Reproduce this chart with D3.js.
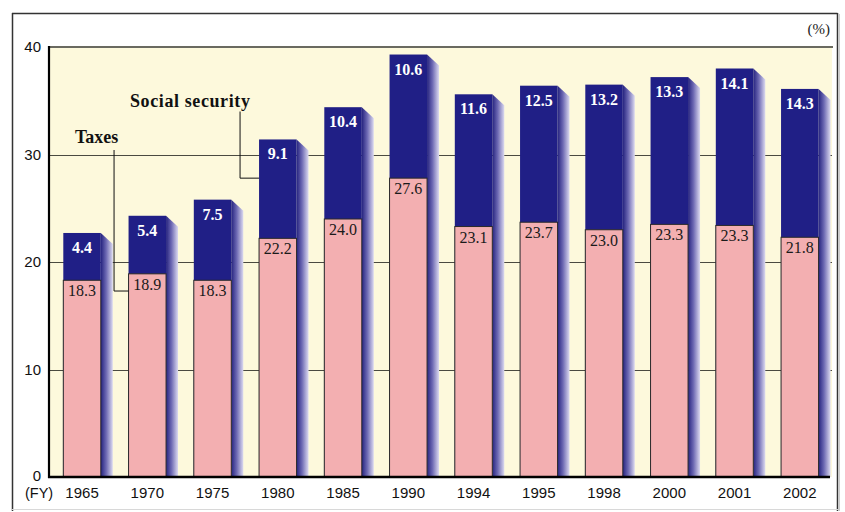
<!DOCTYPE html>
<html>
<head>
<meta charset="utf-8">
<script src="https://cdn.jsdelivr.net/npm/d3@7"></script>
<style>
  html, body { margin: 0; padding: 0; background: #ffffff; }
  svg { display: block; }
</style>
</head>
<body>
<svg id="chart" width="845" height="512"></svg>
<script>
// ---- data ----
const years = ["1965","1970","1975","1980","1985","1990","1994","1995","1998","2000","2001","2002"];
// value labels printed on the bars
const taxes          = [18.3, 18.9, 18.3, 22.2, 24.0, 27.6, 23.1, 23.7, 23.0, 23.3, 23.3, 21.8];
const socialSecurity = [4.4, 5.4, 7.5, 9.1, 10.4, 10.6, 11.6, 12.5, 13.2, 13.3, 14.1, 14.3];
// heights at which the bars are actually drawn in the picture (%)
const taxBarTop   = [18.3, 18.9, 18.3, 22.2, 24.0, 27.8, 23.3, 23.7, 23.0, 23.5, 23.4, 22.3];
const totalBarTop = [22.7, 24.3, 25.8, 31.4, 34.4, 39.3, 35.6, 36.4, 36.5, 37.2, 38.0, 36.1];
const yTicks = [0, 10, 20, 30, 40];

const svg = d3.select("#chart");
const defs = svg.append("defs");

const plot = { left: 49, right: 832, top: 47, bottom: 477 };
const x = d3.scaleBand().domain(years).range([plot.left, plot.right]).paddingInner(0).paddingOuter(0);
const y = d3.scaleLinear().domain([0, 40]).range([plot.bottom, plot.top]);

const frontOffset = 14.3, frontW = 37.5, depth = 12;
const navy = "#201f86", pink = "#f3afb1";

const grad = defs.append("linearGradient").attr("id", "shade").attr("x1", "0").attr("x2", "1").attr("y1", "0").attr("y2", "0");
grad.append("stop").attr("offset", "0%").attr("stop-color", "#25237f");
grad.append("stop").attr("offset", "45%").attr("stop-color", "#6d69b3");
grad.append("stop").attr("offset", "100%").attr("stop-color", "#dcdaf0");

// outer frame
svg.append("line").attr("x1", 12.5).attr("x2", 12.5).attr("y1", 13).attr("y2", 511).attr("stroke", "#333").attr("stroke-width", 1.5);
svg.append("line").attr("x1", 12).attr("x2", 837.5).attr("y1", 13.5).attr("y2", 13.5).attr("stroke", "#333").attr("stroke-width", 1.5);
svg.append("line").attr("x1", 837.5).attr("x2", 837.5).attr("y1", 13).attr("y2", 511).attr("stroke", "#333").attr("stroke-width", 1.5);
svg.append("line").attr("x1", 839.5).attr("x2", 839.5).attr("y1", 14).attr("y2", 511).attr("stroke", "#ccc").attr("stroke-width", 1);
svg.append("line").attr("x1", 12).attr("x2", 838).attr("y1", 509.5).attr("y2", 509.5).attr("stroke", "#d8d8d8").attr("stroke-width", 1);

// plot background
svg.append("rect").attr("x", plot.left).attr("y", y(40)).attr("width", plot.right - plot.left).attr("height", y(0) - y(40)).attr("fill", "#fdf9dc");

// gridlines
svg.append("g").selectAll("line").data(yTicks.filter(d => d > 0 && d < 40)).join("line")
  .attr("x1", plot.left).attr("x2", plot.right)
  .attr("y1", d => Math.round(y(d)) + 0.5).attr("y2", d => Math.round(y(d)) + 0.5)
  .attr("stroke", "#4a4a40").attr("stroke-width", 1);
svg.append("line").attr("x1", plot.left).attr("x2", plot.right + 1).attr("y1", y(40)).attr("y2", y(40))
  .attr("stroke", "#6a6a60").attr("stroke-width", 2);

// bars
const bars = svg.append("g").selectAll("g").data(years.map((yr, i) => ({ yr, i }))).join("g");
bars.append("path")
  .attr("d", d => {
    const xr = x(d.yr) + frontOffset + frontW;
    const top = y(totalBarTop[d.i]);
    return `M${xr},${top} L${xr + depth},${top + 11} L${xr + depth},${y(0)} L${xr},${y(0)} Z`;
  })
  .attr("fill", "url(#shade)");
bars.append("rect")
  .attr("x", d => x(d.yr) + frontOffset).attr("width", frontW)
  .attr("y", d => y(totalBarTop[d.i])).attr("height", d => y(0) - y(totalBarTop[d.i]))
  .attr("fill", navy);
bars.append("rect")
  .attr("x", d => x(d.yr) + frontOffset).attr("width", frontW)
  .attr("y", d => y(taxBarTop[d.i])).attr("height", d => y(0) - y(taxBarTop[d.i]))
  .attr("fill", pink).attr("stroke", "#2a2a2a").attr("stroke-width", 1);

// value labels
bars.append("text")
  .attr("x", d => x(d.yr) + frontOffset + frontW / 2)
  .attr("y", d => y(totalBarTop[d.i]) + 20)
  .attr("text-anchor", "middle")
  .attr("font-family", "'Liberation Serif', 'Times New Roman', serif")
  .attr("font-weight", "bold").attr("font-size", 16).attr("fill", "#ffffff")
  .text(d => socialSecurity[d.i].toFixed(1));
bars.append("text")
  .attr("x", d => x(d.yr) + frontOffset + frontW / 2)
  .attr("y", d => y(taxBarTop[d.i]) + 16)
  .attr("text-anchor", "middle")
  .attr("font-family", "'Liberation Serif', 'Times New Roman', serif")
  .attr("font-size", 16).attr("fill", "#1a1a1a")
  .text(d => taxes[d.i].toFixed(1));

// axes lines
svg.append("line").attr("x1", plot.left).attr("x2", plot.left).attr("y1", y(40) - 1).attr("y2", y(0) + 1)
  .attr("stroke", "#000").attr("stroke-width", 2.2);
svg.append("line").attr("x1", plot.left - 1).attr("x2", plot.right - 2).attr("y1", y(0)).attr("y2", y(0))
  .attr("stroke", "#000").attr("stroke-width", 2.4);

// y tick labels
svg.append("g").selectAll("text").data(yTicks).join("text")
  .attr("x", 41).attr("y", d => y(d) + (d === 0 ? 3.5 : 5))
  .attr("text-anchor", "end")
  .attr("font-family", "'Liberation Sans', Arial, sans-serif").attr("font-size", 15).attr("fill", "#111")
  .text(d => d);

// x labels
svg.append("g").selectAll("text").data(years).join("text")
  .attr("x", d => x(d) + frontOffset + frontW / 2).attr("y", 497.5)
  .attr("text-anchor", "middle")
  .attr("font-family", "'Liberation Sans', Arial, sans-serif").attr("font-size", 15).attr("fill", "#111")
  .text(d => d);
svg.append("text").attr("x", 25).attr("y", 497.5)
  .attr("font-family", "'Liberation Sans', Arial, sans-serif").attr("font-size", 14.5).attr("fill", "#111")
  .text("(FY)");

// unit
svg.append("text").attr("x", 830).attr("y", 34).attr("text-anchor", "end")
  .attr("font-family", "'Liberation Serif', 'Times New Roman', serif").attr("font-size", 15).attr("fill", "#222")
  .text("(%)");

// annotations
const serif = "'Liberation Serif', 'Times New Roman', serif";
svg.append("text").attr("x", 75).attr("y", 143).attr("font-family", serif).attr("font-weight", "bold")
  .attr("font-size", 18).attr("fill", "#111").text("Taxes");
svg.append("text").attr("x", 130).attr("y", 107).attr("font-family", serif).attr("font-weight", "bold")
  .attr("font-size", 18).attr("letter-spacing", 0.6).attr("fill", "#111").text("Social security");

const taxX = x("1970") + frontOffset - 14.5;
const taxY = y(17.3);
svg.append("path").attr("d", `M${taxX},150 L${taxX},${taxY} L${x("1970") + frontOffset},${taxY}`)
  .attr("fill", "none").attr("stroke", "#111").attr("stroke-width", 1);
const ssX = x("1980") + frontOffset - 19;
const ssY = y(27.8);
svg.append("path").attr("d", `M${ssX},111.5 L${ssX},${ssY} L${x("1980") + frontOffset},${ssY}`)
  .attr("fill", "none").attr("stroke", "#111").attr("stroke-width", 1);
</script>
</body>
</html>
